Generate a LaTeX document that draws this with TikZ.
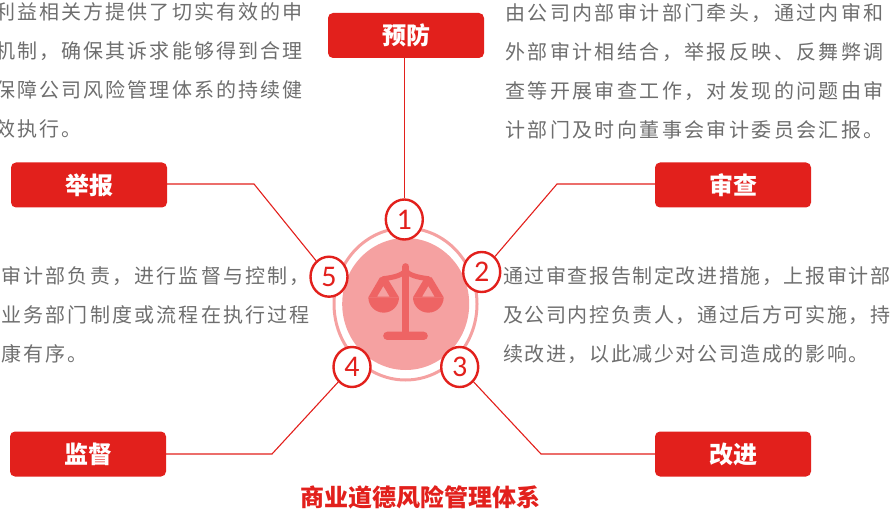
\documentclass[tikz,border=0pt]{standalone}
\usepackage{fontspec}
\usetikzlibrary{shapes.geometric}
\setmainfont{Noto Sans CJK SC}
\newfontfamily\numfont{Carlito}
\definecolor{mainred}{HTML}{E2201C}
\definecolor{bodygray}{HTML}{6E6E6E}
\definecolor{ringpink}{HTML}{F5A1A1}
\definecolor{iconred}{HTML}{EE6464}
\makeatletter
\newlength\cellw
\newcommand\spaced[2]{\setlength\cellw{#1pt}\@tfor\@ch:=#2\do{\makebox[\cellw][c]{\@ch}}}
\makeatother
\tikzset{
  x=1pt,y=-1pt,
  redbox/.style={draw=none,fill=mainred,rounded corners=5pt,minimum width=156pt,minimum height=45pt,inner sep=0pt,text=white,font=\fontsize{24}{26}\selectfont\bfseries},
  numcirc/.style={ellipse,draw=mainred,line width=2.4pt,fill=white,minimum width=37pt,minimum height=40pt,inner sep=0pt,text=mainred,font=\fontsize{30}{31}\selectfont\numfont},
  conn/.style={draw=mainred,line width=1.1pt},
  bodyline/.style={anchor=west,inner sep=0pt,text=bodygray,font=\fontsize{20}{22}\selectfont},
  titletext/.style={text=mainred,inner sep=0pt,font=\fontsize{24}{26}\selectfont\bfseries}
}
\begin{document}
\begin{tikzpicture}
\clip (0,0) rectangle (890,510);
% hub
\node[ellipse,draw=ringpink,line width=3pt,minimum width=143pt,minimum height=152pt,inner sep=0pt] (ring) at (405.5,304) {};
\node[ellipse,fill=ringpink,minimum width=127pt,minimum height=132pt,inner sep=0pt] (hub) at (405.7,304) {};
% scales icon
\begin{scope}[shift={(300pt,-190pt)},x=0.33333pt,y=-0.33333pt,fill=iconred,draw=iconred]
  \draw[line width=7pt,line cap=round,fill=none] (317,230) -- (317,430);
  \draw[line width=5pt,line cap=round,fill=none] (250,266) .. controls (285,262) and (305,255) .. (317,243) .. controls (329,255) and (350,262) .. (385,266);
  \fill (262,425) -- (371,425) arc[start angle=-90,end angle=90,radius=12.5] -- (262,450) arc[start angle=90,end angle=270,radius=12.5] -- cycle;
  \fill[even odd rule] (240,262) -- (260,262) -- (297,322) -- (205,322) -- cycle (250,288) -- (231,320) -- (269,320) -- cycle;
  \fill[even odd rule] (375,262) -- (395,262) -- (431,322) -- (339,322) -- cycle (385,288) -- (366,320) -- (404,320) -- cycle;
  \fill (205,322) arc[start angle=180,end angle=0,radius=46] -- cycle;
  \fill (339,322) arc[start angle=180,end angle=0,radius=46] -- cycle;
\end{scope}
% boxes
\node[redbox] (b1) at (406,35.5) {预防};
\node[redbox] (b2) at (733,185) {审查};
\node[redbox] (b3) at (733,454) {改进};
\node[redbox] (b4) at (88,454) {监督};
\node[redbox] (b5) at (89,185) {举报};
% elbows
\coordinate (e2) at (557,184);
\coordinate (e3) at (541,454);
\coordinate (e4) at (272,454);
\coordinate (e5) at (254,184);
% number circles
\node[numcirc] (n1) at (404.3,219.5) {1};
\node[numcirc] (n2) at (481.7,272) {2};
\node[numcirc] (n3) at (459.7,367) {3};
\node[numcirc] (n4) at (352,367) {4};
\node[numcirc] (n5) at (329,276.7) {5};
% connectors
\coordinate (t1) at (404.3,58);
\draw[conn] (t1) -- (n1);
\draw[conn] (b2.west |- e2) -- (e2) -- (n2);
\draw[conn] (b3.west |- e3) -- (e3) -- (n3);
\draw[conn] (b4.east |- e4) -- (e4) -- (n4);
\draw[conn] (b5.east |- e5) -- (e5) -- (n5);
% left top
\node[bodyline] (lt1) at (-6,12) {\spaced{22.1}{利益相关方提供了切实有效的申}};
\node[bodyline] (lt2) at (-6,51) {\spaced{22.1}{机制，确保其诉求能够得到合理}};
\node[bodyline] (lt3) at (-6,90) {\spaced{22.1}{保障公司风险管理体系的持续健}};
\node[bodyline] (lt4) at (-6,129) {\spaced{22.1}{效执行。}};
% right top
\node[bodyline] (rt1) at (504,13) {\spaced{22.4}{由公司内部审计部门牵头，通过内审和}};
\node[bodyline] (rt2) at (504,52) {\spaced{22.4}{外部审计相结合，举报反映、反舞弊调}};
\node[bodyline] (rt3) at (504,91) {\spaced{22.4}{查等开展审查工作，对发现的问题由审}};
\node[bodyline] (rt4) at (504,130) {\spaced{22.4}{计部门及时向董事会审计委员会汇报。}};
% left middle
\node[bodyline] (lm1) at (0,276) {\spaced{22.2}{审计部负责，进行监督与控制，}};
\node[bodyline] (lm2) at (0,315) {\spaced{22.2}{业务部门制度或流程在执行过程}};
\node[bodyline] (lm3) at (0,354) {\spaced{22.2}{康有序。}};
% right middle
\node[bodyline] (rm1) at (502,276) {\spaced{21.6}{通过审查报告制定改进措施，上报审计部}};
\node[bodyline] (rm2) at (502,315) {\spaced{21.6}{及公司内控负责人，通过后方可实施，持}};
\node[bodyline] (rm3) at (502,354) {\spaced{21.6}{续改进，以此减少对公司造成的影响。}};
% title
\node[titletext] (title) at (420,497) {商业道德风险管理体系};
\end{tikzpicture}
\end{document}
